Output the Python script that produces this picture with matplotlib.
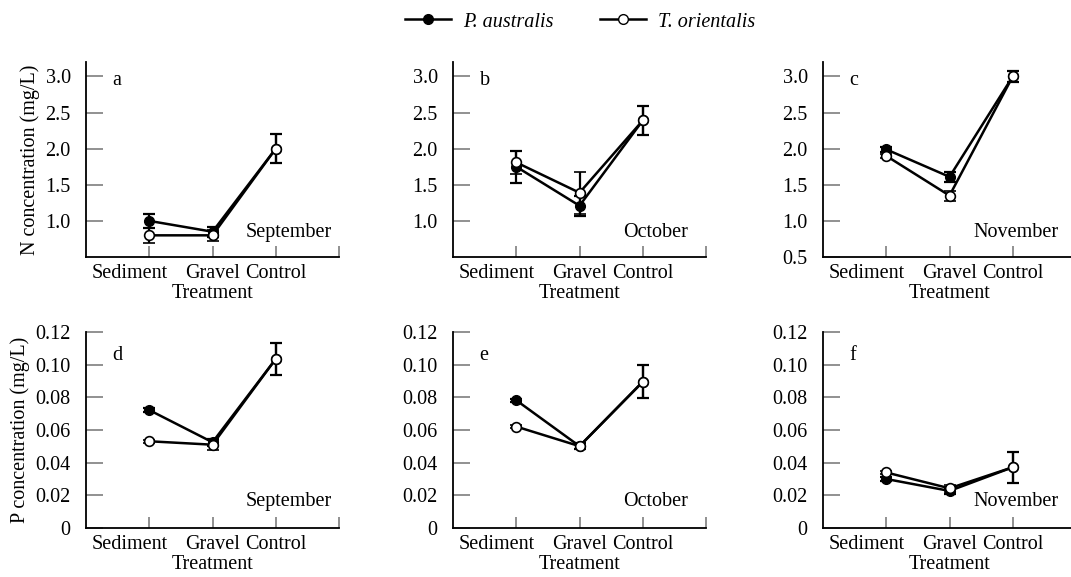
import matplotlib
matplotlib.use("Agg")
from matplotlib import pyplot as plt
from matplotlib.lines import Line2D
from matplotlib.transforms import ScaledTranslation

plt.rcParams['font.family'] = ['Liberation Serif', 'DejaVu Serif']
plt.rcParams['font.size'] = 14.5

treatments = ['Sediment', 'Gravel', 'Control']
months = ['September', 'October', 'November']
panel_letters = ['a', 'b', 'c', 'd', 'e', 'f']

# N concentration (mg/L), mean and error
n_pa = [[1.0, 0.85, 2.0], [1.75, 1.21, 2.39], [1.99, 1.61, 3.0]]
n_pa_err = [[0.1, 0.07, 0.2], [0.22, 0.14, 0.2], [0.03, 0.07, 0.08]]
n_to = [[0.8, 0.8, 2.0], [1.81, 1.39, 2.39], [1.9, 1.35, 3.0]]
n_to_err = [[0.1, 0.08, 0.2], [0.16, 0.29, 0.2], [0.03, 0.07, 0.08]]

# P concentration (mg/L), mean and error
p_pa = [[0.0722, 0.0525, 0.1035], [0.0782, 0.0501, 0.0895], [0.030, 0.0227, 0.0372]]
p_pa_err = [[0.001, 0.002, 0.01], [0.001, 0.002, 0.01], [0.001, 0.002, 0.0095]]
p_to = [[0.0531, 0.051, 0.1035], [0.0621, 0.0501, 0.0895], [0.034, 0.0243, 0.0372]]
p_to_err = [[0.001, 0.003, 0.01], [0.001, 0.002, 0.01], [0.001, 0.002, 0.0095]]

n_ticks = [1.0, 1.5, 2.0, 2.5, 3.0]
n_ticks_c = [0.5, 1.0, 1.5, 2.0, 2.5, 3.0]
p_ticks = [0, 0.02, 0.04, 0.06, 0.08, 0.10, 0.12]
p_ticklabels = ['0', '0.02', '0.04', '0.06', '0.08', '0.10', '0.12']

W, H = 1071, 577
fig = plt.figure(figsize=(W / 100, H / 100), dpi=100)

lefts = [86, 453, 823]
aw = 253
rows = [(62, 257), (332, 528)]


def draw_panel(ax, pa, pa_e, to, to_e):
    x = list(range(len(treatments)))
    ax.errorbar(x, pa, yerr=pa_e, color='black', lw=1.8, marker='o', ms=7,
                mfc='black', mec='black', capsize=4, elinewidth=1.6, capthick=1.6, zorder=3)
    ax.errorbar(x, to, yerr=to_e, color='black', lw=1.8, marker='o', ms=7,
                mfc='white', mec='black', mew=1.2, capsize=4, elinewidth=1.6,
                capthick=1.6, zorder=4)
    ax.set_xlim(-1, 3)
    ax.set_xticks([0, 1, 2, 3])
    ax.set_xticklabels(treatments + [''])
    for s in ['top', 'right']:
        ax.spines[s].set_visible(False)
    for s in ['left', 'bottom']:
        ax.spines[s].set_linewidth(1.3)
    ax.tick_params(axis='x', direction='in', length=8, width=1.3, color='#888888', pad=5)
    ax.tick_params(axis='y', direction='in', length=12, width=1.3, color='#888888', pad=11)
    ax.set_xlabel('Treatment', labelpad=1)
    # Sediment label sits a little left of its tick
    lab = ax.get_xticklabels()[0]
    lab.set_transform(lab.get_transform() + ScaledTranslation(-0.2, 0, fig.dpi_scale_trans))


for r, (top, bot) in enumerate(rows):
    for c in range(3):
        ax = fig.add_axes([lefts[c] / W, 1 - bot / H, aw / W, (bot - top) / H])
        k = r * 3 + c
        if r == 0:
            draw_panel(ax, n_pa[c], n_pa_err[c], n_to[c], n_to_err[c])
            ax.set_ylim(0.5, 3.2)
            if c == 2:
                ax.set_yticks(n_ticks_c)
            else:
                ax.set_yticks(n_ticks)
            ax.set_yticklabels(['%.1f' % v for v in ax.get_yticks()])
            if c == 0:
                ax.set_ylabel('N concentration (mg/L)', labelpad=4)
            ax.text(0.105, 0.905, panel_letters[k], transform=ax.transAxes, va='center', ha='left')
            ax.text(0.972 if c == 0 else 0.93, 0.125, months[c], transform=ax.transAxes,
                    va='center', ha='right')
        else:
            draw_panel(ax, p_pa[c], p_pa_err[c], p_to[c], p_to_err[c])
            ax.set_ylim(0, 0.12)
            ax.set_yticks(p_ticks)
            ax.set_yticklabels(p_ticklabels)
            if c == 0:
                ax.set_ylabel('P concentration (mg/L)', labelpad=4)
            ax.text(0.105, 0.88, panel_letters[k], transform=ax.transAxes, va='center', ha='left')
            ax.text(0.972 if c == 0 else 0.93, 0.133, months[c], transform=ax.transAxes,
                    va='center', ha='right')

handles = [Line2D([], [], color='black', lw=1.8, marker='o', ms=7, mfc='black', mec='black'),
           Line2D([], [], color='black', lw=1.8, marker='o', ms=7, mfc='white', mec='black')]
fig.legend(handles, ['P. australis', 'T. orientalis'], loc='center', ncol=2,
           bbox_to_anchor=(580 / W, 1 - 22 / H), frameon=False, handlelength=2.3,
           handletextpad=0.6, columnspacing=2.3, prop={'style': 'italic', 'size': 14.5})

fig.savefig('out.png', dpi=100)
